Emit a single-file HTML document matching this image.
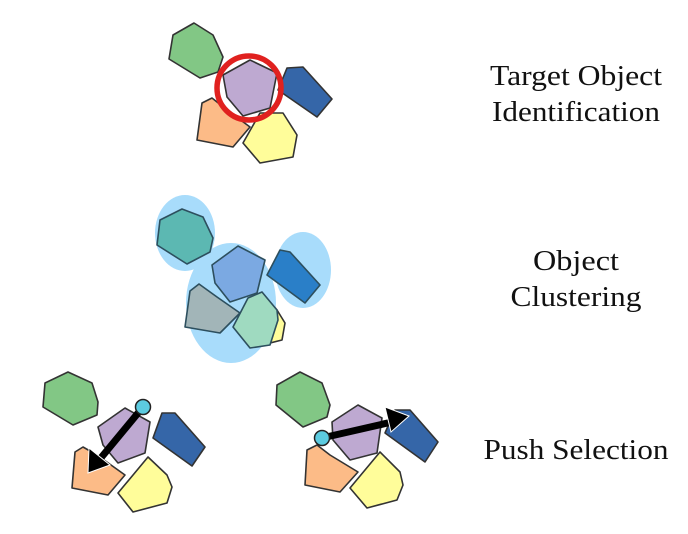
<!DOCTYPE html>
<html><head><meta charset="utf-8"><style>html,body{margin:0;padding:0;background:#fff}svg{display:block}</style></head>
<body>
<svg width="688" height="534" viewBox="0 0 688 534" xmlns="http://www.w3.org/2000/svg">
<g stroke="#333" stroke-width="1.6" stroke-linejoin="round">
<polygon fill="#82c785" points="173,35 194,23 213,35 223,57 218,72 200,78 169,59"/>
<polygon fill="#fcbb87" points="202,103 212,98 227,110 250,127 233,147 197,140"/>
<polygon fill="#fffd9a" points="243,143 260,113 283,113 297,135 293,157 260,163"/>
<polygon fill="#3566a8" points="278,90 287,68 303,67 332,99 317,117"/>
<polygon fill="#bea9d1" points="223,75 250,60 277,73 270,108 243,116 227,97"/>
</g>
<circle cx="249" cy="88" r="32" fill="none" stroke="#e0211f" stroke-width="5.5"/>
<g stroke="#333" stroke-width="1.6" stroke-linejoin="round">
<polygon fill="#fffd9a" points="233,327 248,298 262,292 277,310 285,323 282,340 250,348"/>
</g>
<ellipse cx="185" cy="233" rx="30" ry="38" fill="#a8dcfb"/>
<ellipse cx="303" cy="270" rx="28" ry="38" fill="#a8dcfb"/>
<ellipse cx="231" cy="303" rx="45" ry="60" fill="#a8dcfb"/>
<g stroke="#2d4f5e" stroke-width="1.6" stroke-linejoin="round">
<polygon fill="#5cb8b2" points="160,220 182,209 203,217 213,238 210,252 187,264 157,245"/>
<polygon fill="#7ba9e2" points="212,265 238,246 265,260 257,293 230,302 215,283"/>
<polygon fill="#2a7fc8" points="267,275 280,250 290,252 320,285 305,303"/>
<polygon fill="#a2b5b8" points="190,291 199,284 217,297 240,313 220,333 185,327"/>
<polygon fill="#9fdac0" points="233,327 248,298 262,292 277,310 278,320 270,345 250,348"/>
</g>
<g stroke="#333" stroke-width="1.6" stroke-linejoin="round">
<polygon fill="#82c785" points="45,383 68,372 92,383 98,402 97,415 73,425 43,407"/>
<polygon fill="#bea9d1" points="98,427 125,408 150,422 145,453 118,463 103,445"/>
<polygon fill="#3566a8" points="153,438 162,413 175,413 205,447 192,466"/>
<polygon fill="#fcbb87" points="75,452 83,447 97,455 125,475 108,495 72,488"/>
<polygon fill="#fffd9a" points="118,493 148,457 167,475 172,487 167,503 133,512"/>
<polygon fill="#82c785" points="277,385 300,372 322,383 330,405 327,417 303,427 276,405"/>
<polygon fill="#bea9d1" points="332,422 358,405 382,418 377,453 350,460 333,440"/>
<polygon fill="#3566a8" points="385,433 395,410 410,410 438,442 425,462"/>
<polygon fill="#fcbb87" points="307,450 317,445 330,455 358,472 340,492 305,485"/>
<polygon fill="#fffd9a" points="350,488 380,452 400,472 403,485 397,500 367,508"/>
</g>
<line x1="143" y1="407" x2="100" y2="459" stroke="#000" stroke-width="7"/>
<polygon points="88,473 89,448 110,465" fill="#000" stroke="#fff" stroke-width="1"/>
<circle cx="143" cy="407" r="7.5" fill="#5ccbe0" stroke="#222" stroke-width="1.5"/>
<line x1="322" y1="438" x2="392" y2="422" stroke="#000" stroke-width="7"/>
<polygon points="409,416 385,407 391,432" fill="#000" stroke="#fff" stroke-width="1"/>
<circle cx="322" cy="438" r="7.5" fill="#5ccbe0" stroke="#222" stroke-width="1.5"/>
<g font-family="Liberation Serif, serif" font-size="28" fill="#111" text-anchor="middle" lengthAdjust="spacingAndGlyphs">
<text x="576" y="85" textLength="172" lengthAdjust="spacingAndGlyphs">Target Object</text>
<text x="576" y="121" textLength="168" lengthAdjust="spacingAndGlyphs">Identification</text>
<text x="576" y="270" textLength="86" lengthAdjust="spacingAndGlyphs">Object</text>
<text x="576" y="306" textLength="131" lengthAdjust="spacingAndGlyphs">Clustering</text>
<text x="576" y="459" textLength="185" lengthAdjust="spacingAndGlyphs">Push Selection</text>
</g>
</svg>
</body></html>
